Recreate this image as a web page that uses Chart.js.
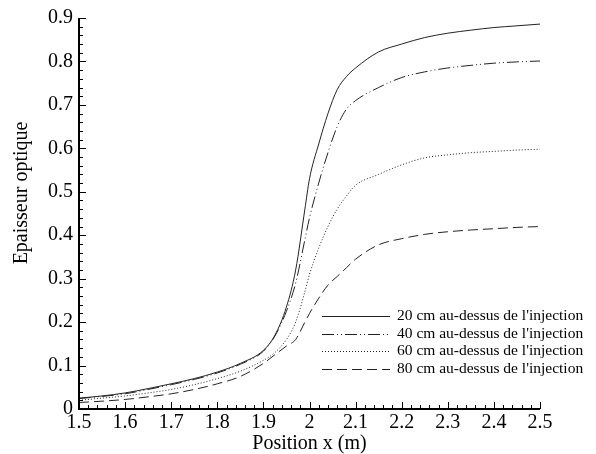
<!DOCTYPE html>
<html>
<head>
<meta charset="utf-8">
<script src="https://cdn.jsdelivr.net/npm/chart.js@4"></script>
<style>
  html, body { margin: 0; padding: 0; background: #fff; }
  #wrap { width: 596px; height: 454px; }
</style>
</head>
<body>
<div id="wrap"><canvas id="epaisseur" width="596" height="454"></canvas></div>
<script>
// positions x (m)
const positions = [1.5,1.55,1.6,1.65,1.7,1.75,1.8,1.85,1.9,1.925,1.95,1.97,1.99,2.0,2.02,2.04,2.06,2.08,2.1,2.15,2.2,2.25,2.3,2.35,2.4,2.45,2.5];

const h20 = [0.025,0.030,0.037,0.047,0.058,0.070,0.085,0.105,0.135,0.170,0.235,0.320,0.460,0.530,0.610,0.680,0.735,0.765,0.785,0.822,0.840,0.855,0.865,0.872,0.878,0.882,0.886];
const h40 = [0.024,0.029,0.035,0.045,0.056,0.068,0.083,0.103,0.133,0.168,0.225,0.290,0.390,0.440,0.520,0.590,0.650,0.690,0.710,0.740,0.763,0.776,0.785,0.791,0.796,0.799,0.801];
const h60 = [0.020,0.025,0.030,0.037,0.045,0.056,0.070,0.087,0.112,0.130,0.160,0.200,0.270,0.310,0.370,0.420,0.460,0.490,0.515,0.540,0.562,0.578,0.585,0.590,0.593,0.596,0.598];
const h80 = [0.015,0.018,0.022,0.028,0.035,0.045,0.058,0.075,0.105,0.125,0.145,0.160,0.200,0.220,0.255,0.285,0.305,0.325,0.345,0.378,0.392,0.402,0.408,0.412,0.415,0.418,0.420];

const labels = [
  "20 cm au-dessus de l'injection",
  "40 cm au-dessus de l'injection",
  "60 cm au-dessus de l'injection",
  "80 cm au-dessus de l'injection"
];

const xTicks = [1.5,1.6,1.7,1.8,1.9,2.0,2.1,2.2,2.3,2.4,2.5];
const yTicks = [0,0.1,0.2,0.3,0.4,0.5,0.6,0.7,0.8,0.9];

const serif = "'Liberation Serif', 'DejaVu Serif', serif";

function pts(ys){
  return positions.map((x,i)=>({x:x, y:ys[i]}));
}

const series = [
  {label: labels[0], data: h20, dash: []},
  {label: labels[1], data: h40, dash: [12,3,1,3,1,3]},
  {label: labels[2], data: h60, dash: [1,2]},
  {label: labels[3], data: h80, dash: [10,5]}
];

// axes, inward ticks, y title and legend
const decor = {
  id: "decor",
  afterDraw(chart){
    const ctx = chart.ctx;
    const xs = chart.scales.x, ys = chart.scales.y;
    const a = chart.chartArea;
    ctx.save();
    ctx.strokeStyle = "#000";
    ctx.lineWidth = 2;
    ctx.beginPath();
    ctx.moveTo(a.left, a.top);
    ctx.lineTo(a.left, a.bottom);
    ctx.lineTo(a.right, a.bottom);
    ctx.stroke();

    ctx.lineWidth = 1;
    ctx.beginPath();
    for(let i=0;i<=50;i++){
      const v = 1.5 + i*0.02;
      const px = Math.round(xs.getPixelForValue(v)) + 0.5;
      const len = (i%5===0) ? 7 : 4;
      ctx.moveTo(px, a.bottom);
      ctx.lineTo(px, a.bottom - len);
    }
    for(let i=0;i<=45;i++){
      const v = i*0.02;
      const py = Math.round(ys.getPixelForValue(v)) + 0.5;
      const len = (i%5===0) ? 7 : 4;
      ctx.moveTo(a.left, py);
      ctx.lineTo(a.left + len, py);
    }
    ctx.stroke();

    // y title
    ctx.fillStyle = "#000";
    ctx.font = "20px " + serif;
    ctx.textAlign = "center";
    ctx.textBaseline = "middle";
    ctx.translate(22, 193);
    ctx.rotate(-Math.PI/2);
    ctx.fillText("Epaisseur optique", 0, 0);
    ctx.restore();

    // legend
    ctx.save();
    ctx.font = "15.5px " + serif;
    ctx.textAlign = "left";
    ctx.textBaseline = "middle";
    chart.data.datasets.forEach((ds,i)=>{
      const y = 316 + i*17.7;
      ctx.strokeStyle = "#222";
      ctx.lineWidth = 1;
      ctx.setLineDash(ds.borderDash);
      ctx.beginPath();
      ctx.moveTo(322, Math.round(y)+0.5);
      ctx.lineTo(390, Math.round(y)+0.5);
      ctx.stroke();
      ctx.setLineDash([]);
      ctx.fillStyle = "#000";
      ctx.fillText(ds.label, 397, y);
    });
    ctx.restore();
  }
};

new Chart(document.getElementById("epaisseur"), {
  type: "line",
  data: {
    datasets: series.map(s=>({
      label: s.label,
      data: pts(s.data),
      borderColor: "#222",
      borderWidth: 1,
      borderDash: s.dash,
      pointRadius: 0,
      fill: false,
      cubicInterpolationMode: "monotone"
    }))
  },
  options: {
    responsive: false,
    animation: false,
    events: [],
    layout: { padding: { top: 18, right: 56, left: 0, bottom: 0 } },
    plugins: {
      legend: { display: false },
      tooltip: { enabled: false }
    },
    scales: {
      x: {
        type: "linear",
        min: 1.5,
        max: 2.5,
        afterFit: s => { s.height = 45; },
        afterBuildTicks: s => { s.ticks = xTicks.map(v=>({value:v})); },
        grid: { display: false, drawTicks: false },
        border: { display: false },
        ticks: {
          color: "#000",
          padding: 2,
          font: { family: serif, size: 20 },
          callback: v => String(Number(v.toFixed(1)))
        },
        title: {
          display: true,
          text: "Position x (m)",
          color: "#000",
          font: { family: serif, size: 20 },
          padding: { top: 0, bottom: -2 }
        }
      },
      y: {
        type: "linear",
        min: 0,
        max: 0.9,
        afterFit: s => { s.width = 79; },
        afterBuildTicks: s => { s.ticks = yTicks.map(v=>({value:v})); },
        grid: { display: false, drawTicks: false },
        border: { display: false },
        ticks: {
          color: "#000",
          padding: 6,
          font: { family: serif, size: 20 },
          callback: v => String(Number(v.toFixed(1)))
        }
      }
    }
  },
  plugins: [decor]
});
</script>
</body>
</html>
